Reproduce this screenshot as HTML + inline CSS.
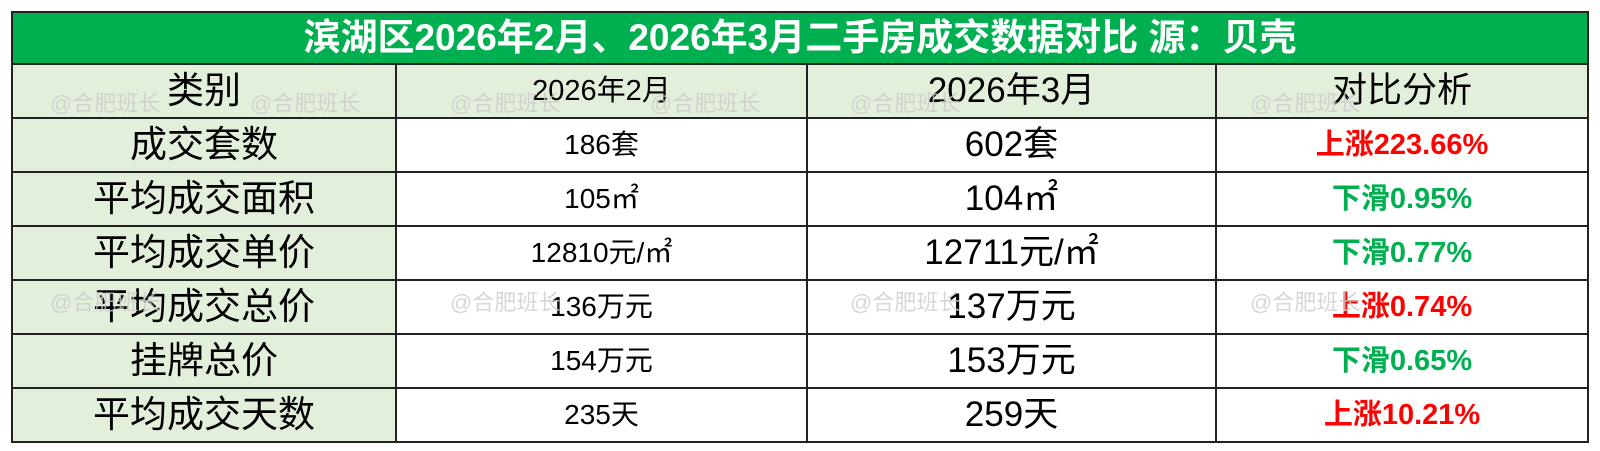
<!DOCTYPE html>
<html><head><meta charset="utf-8"><style>
body{margin:0;width:1600px;height:451px;background:#fff;overflow:hidden;font-family:"Liberation Sans","Noto Sans CJK SC",sans-serif;}
table{position:absolute;left:11px;top:11px;border-collapse:collapse;width:1578px;}
td{border:2px solid #222;text-align:center;padding:0;height:52px;line-height:52px;white-space:nowrap;}
.t td{background:#00b050;color:#fff;font-weight:bold;font-size:37px;height:50px;line-height:50px;}
.c1{background:#e2efda;font-size:37px;width:382px;}
.c2{font-size:28px;width:409px;}
.c3{font-size:35px;width:407px;}
.c4{font-size:29px;font-weight:bold;}
.h .c2,.h .c3,.h .c4{background:#e2efda;}
.h .c4{font-weight:normal;font-size:35px;}
.h .c2{font-size:29px}
.r{color:#ff0000}.g{color:#00b050}
.wm{position:absolute;color:#ccc;font-size:22px;opacity:.8}
</style></head><body>
<table>
<tr class="t"><td colspan="4">滨湖区2026年2月、2026年3月二手房成交数据对比 源：贝壳</td></tr>
<tr class="h"><td class="c1">类别</td><td class="c2">2026年2月</td><td class="c3">2026年3月</td><td class="c4">对比分析</td></tr>
<tr><td class="c1">成交套数</td><td class="c2">186套</td><td class="c3">602套</td><td class="c4 r">上涨223.66%</td></tr>
<tr><td class="c1">平均成交面积</td><td class="c2">105㎡</td><td class="c3">104㎡</td><td class="c4 g">下滑0.95%</td></tr>
<tr><td class="c1">平均成交单价</td><td class="c2">12810元/㎡</td><td class="c3">12711元/㎡</td><td class="c4 g">下滑0.77%</td></tr>
<tr><td class="c1">平均成交总价</td><td class="c2">136万元</td><td class="c3">137万元</td><td class="c4 r">上涨0.74%</td></tr>
<tr><td class="c1">挂牌总价</td><td class="c2">154万元</td><td class="c3">153万元</td><td class="c4 g">下滑0.65%</td></tr>
<tr><td class="c1">平均成交天数</td><td class="c2">235天</td><td class="c3">259天</td><td class="c4 r">上涨10.21%</td></tr>
</table>
<div class="wm" style="left:50px;top:86px">@合肥班长</div>
<div class="wm" style="left:250px;top:86px">@合肥班长</div>
<div class="wm" style="left:450px;top:86px">@合肥班长</div>
<div class="wm" style="left:650px;top:86px">@合肥班长</div>
<div class="wm" style="left:850px;top:86px">@合肥班长</div>
<div class="wm" style="left:1250px;top:86px">@合肥班长</div>
<div class="wm" style="left:50px;top:285px">@合肥班长</div>
<div class="wm" style="left:450px;top:285px">@合肥班长</div>
<div class="wm" style="left:850px;top:285px">@合肥班长</div>
<div class="wm" style="left:1250px;top:285px">@合肥班长</div>
</body></html>
